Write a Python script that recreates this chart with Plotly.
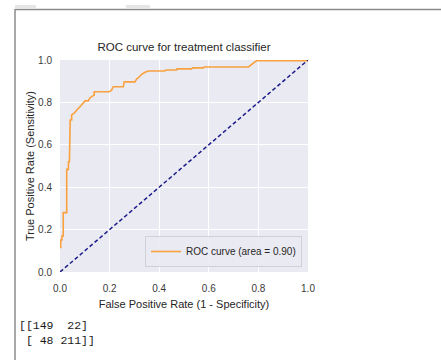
import plotly.graph_objects as go

# ROC curve values
fpr = [0.003, 0.003, 0.008, 0.008, 0.013, 0.013, 0.027, 0.027, 0.034, 0.034, 0.038, 0.038,
       0.041, 0.041, 0.047, 0.047, 0.056, 0.063, 0.074, 0.085, 0.094, 0.101, 0.114, 0.121,
       0.128, 0.138, 0.138, 0.198, 0.208, 0.215, 0.255, 0.259, 0.302, 0.309, 0.320, 0.329,
       0.343, 0.356, 0.423, 0.427, 0.470, 0.472, 0.530, 0.535, 0.578, 0.581, 0.760, 0.779,
       0.793, 1.0]
tpr = [0.112, 0.151, 0.151, 0.170, 0.170, 0.280, 0.280, 0.484, 0.484, 0.520, 0.520, 0.623,
       0.623, 0.717, 0.717, 0.741, 0.748, 0.759, 0.772, 0.785, 0.799, 0.807, 0.807, 0.822,
       0.827, 0.835, 0.850, 0.850, 0.858, 0.874, 0.874, 0.897, 0.897, 0.910, 0.921, 0.932,
       0.942, 0.948, 0.948, 0.953, 0.953, 0.958, 0.958, 0.963, 0.963, 0.967, 0.967, 0.984,
       0.997, 0.997]
chance_x = [0, 1]
chance_y = [0, 1]
roc_auc = 0.90
conf_matrix = [[149, 22], [48, 211]]
ticks = [0.0, 0.2, 0.4, 0.6, 0.8, 1.0]
tick_text = ["0.0", "0.2", "0.4", "0.6", "0.8", "1.0"]

W, H = 441, 360
L, R, T, B = 60, 308, 60, 272

def px(x):
    return (x - L) / (R - L)

def py(y):
    return (B - y) / (B - T)

fig = go.Figure()
fig.add_trace(go.Scatter(
    x=fpr, y=tpr, mode="lines",
    line=dict(color="#f9a03f", width=1.6),
    name="ROC curve (area = %0.2f)" % roc_auc,
))
fig.add_trace(go.Scatter(
    x=chance_x, y=chance_y, mode="lines",
    line=dict(color="#1c1c8c", width=1.5, dash="4px,2.5px"),
    showlegend=False,
))

font_family = "Liberation Sans, Arial, sans-serif"
axis_common = dict(
    tickvals=ticks, ticktext=tick_text, range=[0, 1],
    showgrid=True, gridcolor="white", gridwidth=1,
    zeroline=False, showline=False, automargin=False,
    ticks="outside", tickcolor="rgba(0,0,0,0)",
    tickfont=dict(size=10, color="#3a3a3a", family=font_family),
)
fig.update_xaxes(**axis_common, ticklen=7,
                 title=dict(text="False Positive Rate (1 - Specificity)",
                            font=dict(size=11, color="#262626", family=font_family),
                            standoff=7))
fig.update_yaxes(**axis_common, ticklen=5,
                 title=dict(text="True Positive Rate (Sensitivity)",
                            font=dict(size=11, color="#262626", family=font_family),
                            standoff=1))

cm_text = "[[%d  %d]<br> [ %d %d]]" % (conf_matrix[0][0], conf_matrix[0][1],
                                       conf_matrix[1][0], conf_matrix[1][1])
cm_text = cm_text.replace(" ", "&nbsp;")

fig.update_layout(
    width=W, height=H,
    margin=dict(l=L, r=W - R, t=T, b=H - B, pad=0),
    paper_bgcolor="white", plot_bgcolor="#eaeaf2",
    font=dict(family=font_family, color="#262626"),
    title=dict(text="ROC curve for treatment classifier",
               font=dict(size=11.5, color="#262626", family=font_family),
               xref="paper", x=px(184), xanchor="center",
               yref="container", y=1 - 47 / H, yanchor="middle"),
    legend=dict(x=px(302), xanchor="right", y=py(267), yanchor="bottom",
                bgcolor="rgba(234,234,242,0.9)", bordercolor="#d0d0d8", borderwidth=1,
                font=dict(size=10, color="#262626", family=font_family),
                itemwidth=30),
    shapes=[
        dict(type="line", xref="paper", yref="paper",
             x0=px(15), x1=px(15), y0=py(9), y1=py(360),
             line=dict(color="#a8a8a8", width=2)),
        dict(type="line", xref="paper", yref="paper",
             x0=px(15), x1=px(441), y0=py(9.5), y1=py(9.5),
             line=dict(color="#8a8a8a", width=1.5)),
        dict(type="rect", xref="paper", yref="paper",
             x0=px(15), x1=px(36), y0=py(8.5), y1=py(5),
             line=dict(width=0), fillcolor="#e6e6e6"),
        dict(type="rect", xref="paper", yref="paper",
             x0=px(126), x1=px(150), y0=py(8.5), y1=py(5),
             line=dict(width=0), fillcolor="#e6e6e6"),
    ],
    annotations=[
        dict(text=cm_text, xref="paper", yref="paper", x=px(17), y=py(317),
             xanchor="left", yanchor="top", showarrow=False, align="left",
             font=dict(size=11.5, color="#1a1a1a", family="Liberation Mono, monospace")),
    ],
)

fig.write_html("out.html", config={"displayModeBar": False},
               post_script="document.body.style.margin='0';document.body.style.padding='0';")
